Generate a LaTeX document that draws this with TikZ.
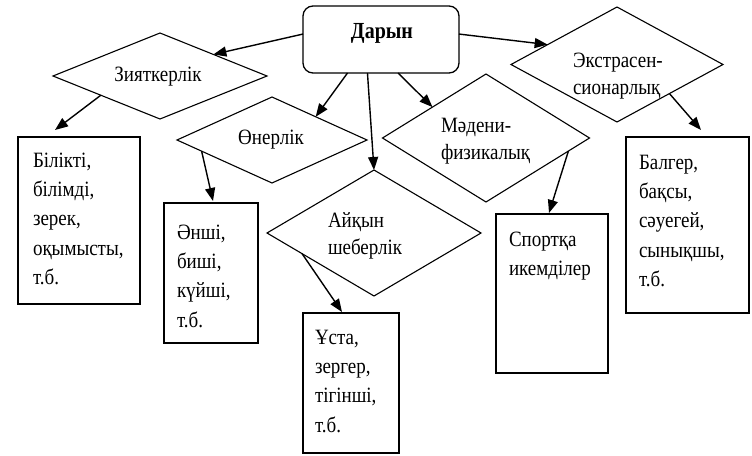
\documentclass[tikz,border=0pt]{standalone}
\usepackage{fontspec}
\usepackage{graphicx}
\setmainfont{Liberation Serif}
\usetikzlibrary{shapes.geometric,arrows.meta,calc}
\newcommand{\vstr}[1]{\scalebox{1}[1.15]{#1}}
\newcommand{\stk}[1]{\scalebox{1}[1.15]{\begin{tabular}[t]{@{}l@{}}#1\end{tabular}}}
\begin{document}
\begin{tikzpicture}[x=1pt,y=-1pt,
  dia/.style={draw,shape=diamond,inner sep=0pt,outer sep=0pt,line width=1.1pt},
  box/.style={draw,rectangle,inner sep=0pt,outer sep=0pt,line width=1.1pt},
  root/.style={draw,rectangle,rounded corners=10pt,inner sep=0pt,outer sep=0pt,line width=1.3pt},
  lbl/.style={inner sep=0pt,outer sep=0pt,font=\fontsize{19}{22}\selectfont},
  mlbl/.style={inner sep=0pt,outer sep=0pt,anchor=base west,font=\fontsize{19}{23.5}\selectfont},
  blbl/.style={inner sep=0pt,outer sep=0pt,anchor=base west,font=\fontsize{19}{25.65}\selectfont},
  arr/.style={line width=1.4pt,-{Triangle[length=13pt,width=10pt]}}]
\useasboundingbox (0,0) rectangle (752,455);

% root
\node[root,minimum width=156pt,minimum height=67pt] (darin) at (381,39.5) {};
\node[lbl,font=\fontsize{20}{22}\selectfont\bfseries] (darint) at (382,33) {\vstr{Дарын}};

% diamonds
\node[dia,minimum width=214pt,minimum height=86pt] (zi) at (160,76) {};
\node[lbl] (zit) at (158,77) {\vstr{Зияткерлік}};

\node[dia,minimum width=190pt,minimum height=86pt] (on) at (272,140) {};
\node[lbl] (ont) at (271,140) {\vstr{Өнерлік}};

\node[dia,minimum width=214pt,minimum height=126pt] (ai) at (374,233) {};
\node[mlbl] (ait) at (328,227) {\stk{Айқын\\шеберлік}};

\node[dia,minimum width=207pt,minimum height=128pt] (ma) at (486,138) {};
\node[mlbl] (mat) at (441,132) {\stk{Мәдени-\\физикалық}};

\node[dia,minimum width=212pt,minimum height=115pt] (ex) at (617,64.5) {};
\node[mlbl] (ext) at (573,67) {\stk{Экстрасен-\\сионарлық}};

% boxes
\node[box,minimum width=122pt,minimum height=167pt] (b1) at (79,220.5) {};
\node[blbl] (b1t) at (33,167) {\stk{Білікті,\\білімді,\\зерек,\\оқымысты,\\т.б.}};

\node[box,minimum width=94pt,minimum height=140pt] (b2) at (211,273) {};
\node[blbl] (b2t) at (177,239) {\stk{Әнші,\\биші,\\күйші,\\т.б.}};

\node[box,minimum width=96pt,minimum height=140pt] (b3) at (351,383) {};
\node[blbl] (b3t) at (315,344) {\stk{Ұста,\\зергер,\\тігінші,\\т.б.}};

\node[box,minimum width=112pt,minimum height=159pt] (b4) at (552,293.5) {};
\node[blbl] (b4t) at (509,246) {\stk{Спортқа\\икемділер}};

\node[box,minimum width=123pt,minimum height=176pt] (b5) at (687.5,225) {};
\node[blbl] (b5t) at (639,169) {\stk{Балгер,\\бақсы,\\сәуегей,\\сынықшы,\\т.б.}};

% arrows
\draw[arr] (darin.176) -- (zi.22);
\draw[arr] (darin.225) -- (on.28);
\draw[arr] (darin.248) -- (ai.north);
\draw[arr] (darin.297) -- (ma.150);
\draw[arr] (darin.4) -- (ex.164);

\draw[arr] (zi.198) -- ([xshift=-24pt,yshift=7pt]b1.north);
\draw[arr] (on.189) -- ([xshift=2pt,yshift=2pt]b2.north);
\draw[arr] (ai.196) -- ([xshift=-9pt,yshift=1pt]b3.north);
\draw[arr] (ma.351) -- ([xshift=-3pt,yshift=1pt]b4.north);
\draw[arr] (ex.331) -- ([xshift=13.5pt,yshift=7pt]b5.north);
\end{tikzpicture}
\end{document}
